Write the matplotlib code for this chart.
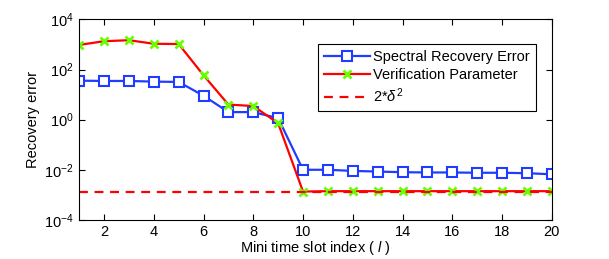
import matplotlib
matplotlib.use("Agg")
import matplotlib.pyplot as plt
import numpy as np

plt.rcParams['font.family'] = ['Liberation Sans', 'DejaVu Sans']
plt.rcParams['mathtext.fontset'] = 'custom'
plt.rcParams['mathtext.rm'] = 'Liberation Sans'
plt.rcParams['mathtext.it'] = 'Liberation Sans:italic'

slots = list(range(1, 21))
spectral_error = [36, 35, 35, 33, 32, 9, 2.0, 2.0, 1.15, 0.010,
                  0.010, 0.0090, 0.0085, 0.0080, 0.0078, 0.0078, 0.0076, 0.0076, 0.0073, 0.0066]
verification = [960, 1350, 1480, 1070, 1040, 59, 4.0, 3.5, 0.72, 0.00135,
                0.0014, 0.0014, 0.0014, 0.0014, 0.0014, 0.0014, 0.0014, 0.0014, 0.0014, 0.0014]
threshold = 0.0013

fig = plt.figure(figsize=(6.09, 2.59), dpi=100)
ax = fig.add_axes([0.13, 0.151, 0.776, 0.774])

ax.plot(slots, spectral_error, color='#1f3cff', lw=1.6, marker='s', ms=7,
        mfc='white', mec='#1f3cff', mew=1.5, label='Spectral Recovery Error')
ax.plot(slots, verification, color='#ff0000', lw=1.6, marker='x', ms=6,
        mec='#66ff00', mew=2, label='Verification Parameter')
ax.axhline(threshold, color='#ff0000', lw=1.6, ls=(0, (4, 3)), label='2*$\\delta^2$')

ax.set_yscale('log')
ax.set_ylim(1e-4, 1e4)
ax.set_xlim(1, 20)
ax.set_xticks(range(2, 21, 2))
ax.set_yticks([1e-4, 1e-2, 1e0, 1e2, 1e4])
ax.yaxis.set_minor_locator(matplotlib.ticker.NullLocator())
ax.tick_params(direction='in', top=True, right=True, labelsize=10.5, length=4, pad=4)
for s in ax.spines.values():
    s.set_linewidth(0.8)
ax.set_xlabel('Mini time slot index ( $\\mathit{l}$ )', fontsize=10.5, labelpad=0)
ax.set_ylabel('Recovery error', fontsize=10.5, labelpad=3)

leg = ax.legend(loc='upper right', bbox_to_anchor=(0.966, 0.876), fontsize=10.5,
                frameon=True, fancybox=False, edgecolor='black', framealpha=1,
                borderpad=0.4, labelspacing=0.3, handlelength=3.2, handletextpad=0.2,
                borderaxespad=0)
leg.get_frame().set_linewidth(0.8)

fig.savefig('out.png', dpi=100)
